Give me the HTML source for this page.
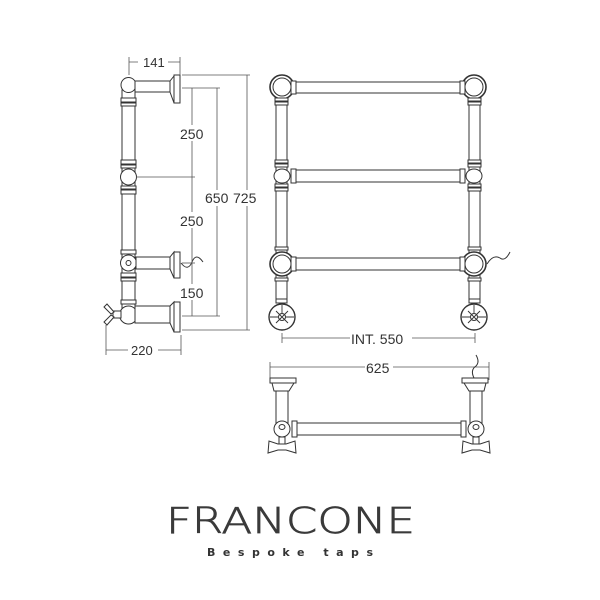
<!DOCTYPE html>
<html><head><style>html,body{margin:0;padding:0;background:#fff}svg{display:block}</style></head>
<body>
<svg width="600" height="600" viewBox="0 0 600 600" xmlns="http://www.w3.org/2000/svg" font-family="Liberation Sans, sans-serif">
<g fill="#fff" stroke="#333" stroke-width="1">
<!-- SIDE VIEW -->
<rect x="122" y="90" width="13" height="218"/>
<circle cx="128.5" cy="85" r="7.5"/>
<rect x="135" y="81" width="35" height="11"/>
<path d="M170 81 L174 76 L174 103 L170 92 Z"/>
<rect x="174" y="75" width="6" height="28"/>
<rect x="121" y="98" width="15" height="4"/><rect x="121" y="103" width="15" height="3"/>
<rect x="121" y="160" width="15" height="4"/><rect x="121" y="165" width="15" height="3"/>
<ellipse cx="128.5" cy="177" rx="8" ry="8"/>
<rect x="121" y="186" width="15" height="3"/><rect x="121" y="190" width="15" height="4"/>
<rect x="121" y="250" width="15" height="4"/>
<circle cx="128.5" cy="263" r="8"/><circle cx="128.5" cy="263" r="2.5"/>
<rect x="136" y="257" width="34" height="12"/>
<path d="M170 257 L174 252 L174 278 L170 269 Z"/>
<rect x="174" y="252" width="6" height="26"/>
<rect x="121" y="273" width="15" height="4"/><rect x="121" y="278" width="15" height="3"/>
<rect x="121" y="300" width="15" height="4"/>
<circle cx="128.5" cy="315" r="9"/>
<rect x="135" y="306" width="35" height="17"/>
<path d="M170 306 L174 302 L174 332 L170 323 Z"/>
<rect x="174" y="302" width="6" height="30"/>
<rect x="113" y="311" width="8" height="7"/>
<path d="M114 312 L107 304 L104 307 L111 314 Z M114 317 L107 325 L104 322 L111 315 Z"/>
<path d="M181 263 Q188 272 192 262 Q196 252 203 262" fill="none"/>
</g>
<g stroke="#555" stroke-width="0.8" fill="none">
<line x1="129" y1="62" x2="180" y2="62"/><line x1="129" y1="57" x2="129" y2="75"/><line x1="180" y1="57" x2="180" y2="75"/>
<line x1="106" y1="350" x2="181" y2="350"/><line x1="106" y1="325" x2="106" y2="355"/><line x1="181" y1="335" x2="181" y2="355"/>
<line x1="192" y1="88" x2="192" y2="316"/>
<line x1="217" y1="88" x2="217" y2="316"/>
<line x1="247" y1="75" x2="247" y2="330"/>
<line x1="182" y1="88" x2="220" y2="88"/><line x1="182" y1="316" x2="220" y2="316"/>
<line x1="182" y1="75" x2="250" y2="75"/><line x1="182" y1="330" x2="250" y2="330"/>
<line x1="136" y1="177" x2="195" y2="177"/>
<line x1="182" y1="263" x2="195" y2="263"/>
</g>
<g font-size="14" fill="#333">
<rect x="174" y="125" width="30" height="16" fill="#fff"/><text x="180" y="139">250</text>
<rect x="174" y="212" width="30" height="16" fill="#fff"/><text x="180" y="226">250</text>
<rect x="174" y="284" width="30" height="16" fill="#fff"/><text x="180" y="298">150</text>
<rect x="203" y="190" width="60" height="16" fill="#fff"/><text x="205" y="203">650</text><text x="233" y="203">725</text>
<rect x="138" y="55" width="30" height="14" fill="#fff"/><text x="143" y="67" font-size="13">141</text>
<rect x="128" y="343" width="30" height="14" fill="#fff"/><text x="131" y="355" font-size="13">220</text>
</g>
<!-- FRONT VIEW -->
<g fill="#fff" stroke="#333" stroke-width="1">
<rect x="276" y="95" width="11" height="205"/><rect x="469" y="95" width="11" height="205"/>
<rect x="293" y="82" width="170" height="11"/>
<rect x="293" y="170" width="170" height="12"/>
<rect x="293" y="258" width="170" height="12"/>
<g id="c">
<circle cx="282" cy="87" r="12" stroke-width="1.6"/><circle cx="282" cy="87" r="9"/>
<rect x="291" y="81" width="5" height="13"/>
<rect x="275" y="98" width="13" height="3"/><rect x="275" y="102" width="13" height="3"/>
<rect x="275" y="160" width="13" height="3"/><rect x="275" y="164" width="13" height="3"/>
<ellipse cx="282" cy="176" rx="8" ry="7"/>
<rect x="291" y="169" width="5" height="14"/>
<rect x="275" y="184" width="13" height="3"/><rect x="275" y="188" width="13" height="3"/>
<rect x="275" y="247" width="13" height="3"/>
<circle cx="282" cy="264" r="12" stroke-width="1.6"/><circle cx="282" cy="264" r="9"/>
<rect x="291" y="257" width="5" height="14"/>
<rect x="275" y="278" width="13" height="3"/>
<rect x="276" y="299" width="11" height="4"/>
<circle cx="282" cy="317" r="13" stroke-width="1.4"/><circle cx="282" cy="317" r="3.5"/>
<path d="M276 311 L288 323 M288 311 L276 323 M282 305 L282 313 M270 317 L278 317 M286 317 L294 317" stroke-width="0.9" fill="none"/>
</g>
<use href="#c" transform="translate(756 0) scale(-1 1)"/>
<path d="M487 264 Q493 254 500 258 Q505 262 510 252" fill="none"/>
</g>
<g stroke="#555" stroke-width="0.8">
<line x1="282" y1="338" x2="475" y2="338"/><line x1="282" y1="333" x2="282" y2="343"/><line x1="475" y1="333" x2="475" y2="343"/>
</g>
<rect x="350" y="330" width="62" height="16" fill="#fff"/><text x="351" y="344" font-size="14" fill="#333">INT. 550</text>
<!-- BOTTOM VIEW -->
<g stroke="#555" stroke-width="0.8">
<line x1="270" y1="367" x2="489" y2="367"/><line x1="270" y1="362" x2="270" y2="380"/><line x1="489" y1="362" x2="489" y2="380"/>
</g>
<rect x="365" y="359" width="28" height="16" fill="#fff"/><text x="366" y="373" font-size="14" fill="#333">625</text>
<g fill="#fff" stroke="#333" stroke-width="1">
<rect x="293" y="423" width="172" height="12"/>
<g id="b">
<rect x="270" y="378" width="26" height="5"/>
<path d="M272 383 L294 383 L289 391 L274 391 Z"/>
<rect x="276" y="391" width="12" height="32"/>
<circle cx="282" cy="429" r="8"/><ellipse cx="282" cy="427" rx="3" ry="2.5"/>
<rect x="292" y="421" width="5" height="16"/>
<path d="M278 444 L269 441 L268 453 L278 450 L286 450 L296 453 L295 441 L286 444 Z"/>
<rect x="279" y="437" width="6" height="7"/>
</g>
<use href="#b" transform="translate(758 0) scale(-1 1)"/>
<path d="M474 378 Q470 370 476 366 Q480 362 476 355" fill="none"/>
</g>
<!-- LOGO -->
<text x="166" y="533" font-size="36" textLength="249" lengthAdjust="spacingAndGlyphs" fill="#3a3a3a" stroke="#3a3a3a" stroke-width="0.7" font-family="DejaVu Sans, sans-serif" font-weight="200">FRANCONE</text>
<text x="207" y="556" font-size="11" textLength="166" lengthAdjust="spacing" fill="#333" font-family="DejaVu Sans, sans-serif" font-weight="bold">Bespoke taps</text>
</svg>
</body></html>
